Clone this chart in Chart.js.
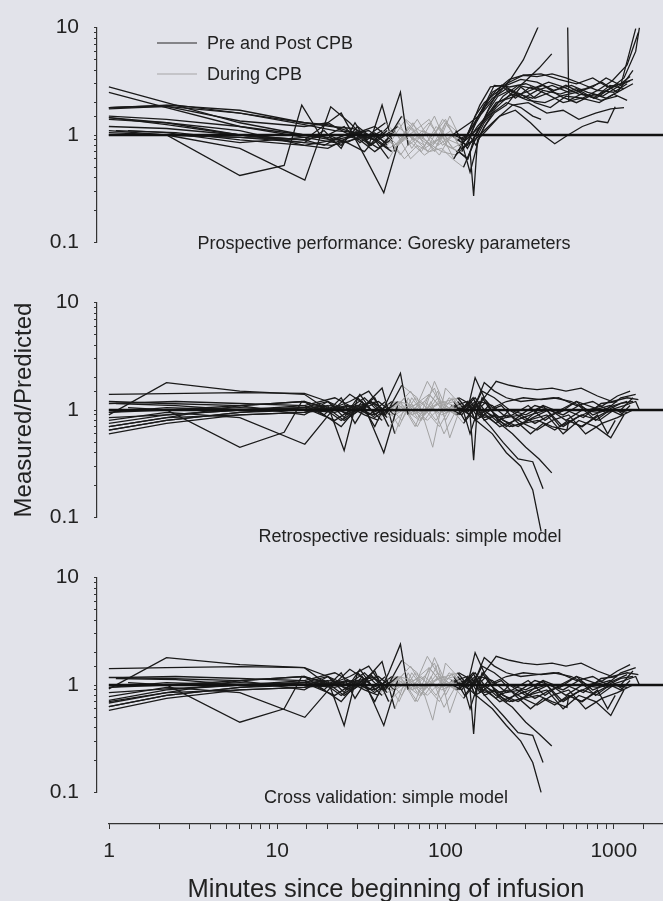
<!DOCTYPE html>
<html>
<head>
<meta charset="utf-8">
<script src="https://cdn.jsdelivr.net/npm/chart.js@4.4.1/dist/chart.umd.min.js"></script>
<style>
    html, body { margin: 0; padding: 0; }
    body {
        width: 663px; height: 901px; position: relative; overflow: hidden;
        background: #e2e3ea; color: #222;
        font-family: "Liberation Sans", Arial, sans-serif;
    }
    canvas { position: absolute; left: 0; }
    .note { position: absolute; font-size: 18px; white-space: nowrap; transform: translate(-50%, -50%); }
    .key { position: absolute; left: 157px; font-size: 18px; white-space: nowrap;
           display: flex; align-items: center; transform: translateY(-50%); }
    .swatch { display: inline-block; width: 40px; border-top: 1.6px solid; margin-right: 10px; }
</style>
</head>
<body>
<canvas id="gorChart" width="663" height="270" style="top:0px"></canvas>
<canvas id="retChart" width="663" height="270" style="top:275px"></canvas>
<canvas id="crsChart" width="663" height="270" style="top:550px"></canvas>
<canvas id="axisChart" width="663" height="105" style="top:800px"></canvas>

<div class="key" style="top:43px"><span class="swatch" style="border-color:#262626"></span>Pre and Post CPB</div>
<div class="key" style="top:74px"><span class="swatch" style="border-color:#a5a5a5"></span>During CPB</div>

<div class="note" style="left:384px; top:243px">Prospective performance: Goresky parameters</div>
<div class="note" style="left:410px; top:536px">Retrospective residuals: simple model</div>
<div class="note" style="left:386px; top:797px">Cross validation: simple model</div>

<script>
// ===== AXES =====
const xMin = 0.85;
const xMax = 1961;
const xTicks = [1, 10, 100, 1000];
const xTickText = ["1", "10", "100", "1000"];
const yTicks = [0.1, 1, 10];
const yTickText = ["0.1", "1", "10"];

// line of identity (measured = predicted)
const unityX = [1, 1961];
const unityY = [1, 1];

// ===== SUBJECTS (minutes, ratios per panel, CPB window) =====
const t1 = [1, 2.2, 6, 14.5, 21, 28, 36, 45, 60, 75, 90, 110, 125, 140, 165, 200, 240, 290, 354, 430, 527, 540, 640, 780, 950, 1100, 1250];
const gor1 = [2.8, 2.0, 1.3, 1.0, 0.9, 1.05, 0.8, 1.1, 0.9, 0.65, 0.8, 1.0, 1.15, 1.3, 1.6, 2.3, 3.2, 5.0, 10, 30, 30, 2.1, 2.4, 2.2, 2.7, 3.0, 3.5];
const ret1 = [0.75, 0.9, 1.0, 1.05, 1.1, 0.95, 1.2, 0.85, 1.1, 0.8, 1.2, 1.0, 0.9, 1.15, 1.0, 0.85, 0.9, 0.75, 0.8, 0.7, 0.65, 0.8, 0.7, 0.85, 1.0, 0.9, 1.1];
const crs1 = [0.72, 0.9, 1.0, 1.05, 1.1, 0.95, 1.25, 0.85, 1.1, 0.8, 1.2, 1.0, 0.9, 1.15, 1.0, 0.85, 0.9, 0.75, 0.8, 0.7, 0.62, 0.8, 0.7, 0.85, 1.0, 0.9, 1.1];
const cpb1 = [45, 110];

const t2 = [1, 2.2, 6, 14.5, 20, 26, 33, 42, 52, 65, 80, 100, 120, 135, 150, 170, 200, 250, 300, 360, 428];
const gor2 = [1.8, 1.85, 1.6, 1.3, 1.25, 1.1, 1.0, 0.95, 1.2, 0.9, 1.3, 0.8, 0.7, 0.6, 0.9, 1.3, 1.8, 2.5, 3.2, 4.2, 5.7];
const ret2 = [1.4, 1.42, 1.45, 1.43, 1.2, 1.0, 1.3, 0.9, 1.2, 1.1, 1.4, 0.95, 1.0, 1.1, 1.3, 1.0, 0.8, 0.6, 0.45, 0.35, 0.26];
const crs2 = [1.42, 1.45, 1.48, 1.45, 1.2, 1.0, 1.3, 0.9, 1.2, 1.1, 1.45, 0.95, 1.0, 1.1, 1.3, 1.0, 0.8, 0.62, 0.45, 0.35, 0.27];
const cpb2 = [52, 120];

const t3 = [1, 2.2, 6, 11, 14, 18, 24, 30, 38, 46, 58, 72, 88, 105, 125, 140, 160, 190, 230, 280, 340, 420, 520, 650, 800, 1000, 1200];
const gor3 = [1.0, 1.0, 0.42, 0.52, 1.9, 1.0, 0.8, 1.2, 0.9, 0.6, 1.1, 0.7, 1.2, 0.9, 0.8, 1.1, 1.6, 2.2, 2.7, 2.4, 2.0, 1.8, 2.3, 2.2, 2.6, 2.5, 3.0];
const ret3 = [0.95, 1.0, 0.45, 0.62, 1.2, 1.1, 0.8, 1.0, 1.3, 0.7, 1.0, 1.2, 0.8, 1.3, 1.05, 0.9, 1.2, 1.1, 0.85, 0.9, 1.1, 1.0, 0.8, 1.0, 0.95, 1.1, 1.2];
const crs3 = [0.95, 1.0, 0.45, 0.6, 1.2, 1.1, 0.8, 1.0, 1.35, 0.7, 1.0, 1.2, 0.8, 1.3, 1.05, 0.9, 1.2, 1.1, 0.85, 0.9, 1.1, 1.0, 0.8, 1.0, 0.95, 1.1, 1.25];
const cpb3 = [46, 125];

const t4 = [1, 2.2, 6, 14.6, 20.8, 27, 34, 42, 52, 64, 78, 95, 112, 130, 145, 165, 195, 240, 300, 380, 480, 600, 760, 950, 1150];
const gor4 = [1.1, 1.0, 0.75, 0.38, 1.83, 1.3, 0.9, 1.1, 0.8, 1.3, 0.7, 1.0, 0.6, 0.9, 1.2, 1.7, 2.9, 2.8, 3.0, 2.6, 2.4, 2.7, 2.2, 2.9, 2.7];
const ret4 = [0.8, 0.95, 0.85, 0.48, 0.95, 1.4, 1.1, 0.8, 1.2, 0.9, 1.85, 1.1, 1.2, 0.8, 1.0, 1.5, 1.3, 1.0, 0.9, 1.1, 0.7, 0.85, 1.0, 1.1, 0.9];
const crs4 = [0.78, 0.95, 0.85, 0.5, 0.95, 1.4, 1.1, 0.8, 1.2, 0.9, 1.85, 1.1, 1.2, 0.8, 1.0, 1.5, 1.3, 1.0, 0.9, 1.1, 0.7, 0.85, 1.0, 1.1, 0.9];
const cpb4 = [42, 112];

const t5 = [1, 2.2, 6, 14.5, 24, 32, 43, 52, 62, 75, 90, 108, 125, 140, 155, 175, 205, 250, 310, 390, 480, 600, 750, 900, 1100, 1350];
const gor5 = [1.45, 1.3, 1.0, 0.9, 1.6, 0.7, 0.29, 0.8, 1.0, 0.75, 0.9, 1.1, 0.7, 0.95, 1.2, 1.5, 2.0, 2.4, 2.1, 2.0, 2.3, 2.5, 2.8, 3.4, 2.9, 9.8];
const ret5 = [0.7, 0.85, 1.1, 1.2, 0.7, 1.2, 0.4, 1.1, 1.5, 0.9, 1.3, 1.0, 1.1, 0.6, 1.0, 1.2, 0.8, 0.9, 1.1, 0.8, 1.0, 1.2, 0.9, 1.0, 1.3, 1.4];
const crs5 = [0.68, 0.85, 1.1, 1.2, 0.7, 1.2, 0.42, 1.1, 1.5, 0.9, 1.3, 1.0, 1.1, 0.6, 1.0, 1.2, 0.8, 0.9, 1.1, 0.8, 1.0, 1.2, 0.9, 1.0, 1.3, 1.45];
const cpb5 = [52, 125];

const t6 = [1, 2.2, 6, 14.5, 20, 26, 32, 38, 46, 54, 60, 72, 86, 100, 118, 135, 150, 170, 200, 240, 290, 350, 430, 520, 640, 800, 980, 1200, 1400];
const gor6 = [1.5, 1.4, 1.2, 1.0, 0.95, 0.85, 1.0, 0.9, 1.2, 2.5, 0.8, 1.0, 0.7, 1.3, 0.9, 0.8, 1.3, 1.9, 2.6, 3.3, 3.6, 3.5, 3.7, 3.4, 3.0, 2.6, 3.2, 4.5, 9.0];
const ret6 = [0.65, 0.8, 0.95, 1.05, 1.2, 0.9, 1.1, 0.7, 1.3, 2.2, 0.9, 1.1, 1.6, 0.8, 1.3, 1.0, 2.0, 1.3, 1.85, 1.7, 1.6, 1.55, 1.6, 1.5, 1.6, 1.35, 1.2, 1.3, 1.25];
const crs6 = [0.63, 0.8, 0.95, 1.05, 1.2, 0.9, 1.1, 0.7, 1.3, 2.4, 0.9, 1.1, 1.6, 0.8, 1.3, 1.0, 2.0, 1.3, 1.85, 1.7, 1.6, 1.55, 1.6, 1.5, 1.6, 1.35, 1.2, 1.3, 1.25];
const cpb6 = [60, 118];

const t7 = [1, 2.2, 6, 14.5, 19, 25, 31, 38, 47, 57, 68, 80, 95, 110, 128, 140, 147, 155, 175, 210, 260, 320, 380, 446, 535, 650, 800, 920, 1020];
const gor7 = [1.0, 1.0, 0.95, 0.9, 0.8, 1.0, 0.9, 0.7, 0.9, 0.6, 0.8, 0.7, 0.75, 0.6, 0.5, 0.7, 0.27, 0.9, 1.1, 1.5, 1.7, 1.3, 1.0, 0.83, 1.0, 1.2, 1.35, 1.3, 1.83];
const ret7 = [1.0, 1.0, 1.05, 1.0, 1.1, 0.8, 1.0, 1.15, 0.9, 1.3, 0.85, 1.1, 0.9, 1.0, 0.75, 0.9, 0.34, 1.1, 0.9, 0.7, 0.8, 0.6, 0.75, 0.65, 0.8, 0.7, 0.9, 0.6, 0.8];
const crs7 = [1.0, 1.0, 1.05, 1.0, 1.1, 0.8, 1.0, 1.15, 0.9, 1.3, 0.85, 1.1, 0.9, 1.0, 0.75, 0.9, 0.35, 1.1, 0.9, 0.7, 0.8, 0.6, 0.75, 0.65, 0.8, 0.7, 0.9, 0.6, 0.8];
const cpb7 = [47, 128];

const t8 = [1, 2.2, 6, 14.5, 21, 28, 35, 44, 55, 66, 80, 96, 112, 130, 145, 160, 185, 220, 270, 330, 380];
const gor8 = [1.8, 1.9, 1.7, 1.3, 1.2, 1.15, 1.0, 1.3, 0.9, 1.1, 1.4, 0.8, 1.0, 0.9, 1.3, 1.9, 2.8, 2.9, 2.4, 2.2, 2.6];
const ret8 = [1.2, 1.15, 1.1, 1.2, 1.0, 1.1, 0.9, 1.2, 0.8, 1.3, 1.0, 1.2, 1.1, 1.0, 1.1, 0.9, 0.7, 0.5, 0.35, 0.33, 0.185];
const crs8 = [1.18, 1.15, 1.1, 1.2, 1.0, 1.1, 0.9, 1.2, 0.8, 1.3, 1.0, 1.2, 1.1, 1.0, 1.1, 0.9, 0.7, 0.52, 0.36, 0.34, 0.19];
const cpb8 = [44, 112];

const t9 = [1, 2.2, 6, 14.5, 22, 30, 38, 48, 60, 75, 92, 110, 126, 142, 160, 185, 220, 270, 330, 410, 500, 620, 780, 950, 1150, 1350, 1420];
const gor9 = [2.5, 1.8, 1.2, 0.95, 0.85, 1.0, 0.9, 0.7, 1.0, 0.8, 1.2, 0.75, 0.85, 1.0, 1.2, 1.6, 2.3, 2.9, 2.7, 3.1, 2.8, 2.4, 2.3, 2.7, 3.4, 6.0, 10];
const ret9 = [0.85, 0.9, 1.0, 1.0, 0.95, 1.1, 0.85, 1.1, 0.95, 1.2, 0.9, 1.3, 1.0, 1.2, 0.85, 1.0, 0.8, 0.7, 0.85, 1.0, 0.9, 1.1, 0.8, 1.0, 1.1, 1.2, 1.0];
const crs9 = [0.85, 0.92, 1.0, 1.0, 0.95, 1.1, 0.85, 1.1, 0.95, 1.2, 0.9, 1.3, 1.0, 1.2, 0.85, 1.0, 0.8, 0.7, 0.85, 1.0, 0.9, 1.1, 0.8, 1.0, 1.1, 1.2, 1.0];
const cpb9 = [48, 126];

const t10 = [1, 2.2, 6, 14.5, 20, 27, 35, 44, 55, 68, 84, 100, 118, 135, 150, 170, 195, 230, 280, 350, 440, 560, 700, 860, 1050, 1250];
const gor10 = [1.75, 1.85, 1.35, 1.2, 1.3, 1.0, 1.1, 0.85, 1.5, 1.0, 0.8, 1.3, 0.9, 1.0, 1.5, 2.0, 2.4, 2.9, 3.3, 3.1, 2.6, 2.9, 2.5, 2.3, 2.8, 3.2];
const ret10 = [0.9, 1.8, 1.5, 1.4, 1.0, 1.2, 1.5, 0.9, 1.7, 1.3, 0.45, 1.6, 1.2, 0.95, 1.1, 1.8, 1.5, 1.3, 1.2, 1.25, 1.3, 1.2, 1.0, 1.1, 1.35, 1.5];
const crs10 = [0.92, 1.8, 1.55, 1.45, 1.0, 1.2, 1.5, 0.9, 1.7, 1.3, 0.47, 1.6, 1.2, 0.95, 1.1, 1.8, 1.5, 1.3, 1.2, 1.25, 1.3, 1.2, 1.0, 1.1, 1.35, 1.55];
const cpb10 = [55, 118];

const t11 = [1.1, 2.5, 6, 14.5, 22, 30, 40, 50, 62, 78, 95, 115, 132, 150, 170, 200, 250, 310, 400, 500, 620, 780, 960, 1150];
const gor11 = [1.1, 1.05, 0.9, 0.8, 0.9, 1.0, 0.75, 1.1, 0.6, 0.85, 0.7, 0.65, 0.8, 0.9, 1.1, 1.4, 1.9, 2.0, 1.6, 1.7, 1.4, 1.6, 1.75, 1.8];
const ret11 = [1.15, 1.1, 1.0, 1.05, 0.8, 1.1, 1.2, 0.9, 1.1, 0.8, 1.1, 0.9, 1.0, 1.2, 0.8, 0.9, 0.7, 0.8, 0.9, 0.6, 0.8, 0.7, 0.55, 0.9];
const crs11 = [1.15, 1.12, 1.0, 1.05, 0.8, 1.1, 1.2, 0.9, 1.1, 0.8, 1.1, 0.9, 1.0, 1.2, 0.8, 0.9, 0.7, 0.8, 0.9, 0.6, 0.8, 0.7, 0.52, 0.9];
const cpb11 = [50, 115];

const t12 = [1, 2.2, 6, 14.5, 20, 25, 30, 36, 44, 54, 66, 80, 96, 115, 135, 150, 170, 200, 240, 300, 380, 480, 600, 760, 900, 1100, 1300];
const gor12 = [1.4, 1.3, 1.1, 0.8, 0.75, 0.9, 1.1, 0.8, 1.0, 0.65, 1.0, 0.8, 1.4, 1.1, 0.75, 1.0, 1.4, 2.0, 2.2, 2.5, 2.9, 2.3, 2.0, 2.4, 2.2, 2.6, 3.0];
const ret12 = [0.6, 0.75, 0.9, 0.95, 1.1, 0.42, 1.3, 1.0, 0.9, 1.2, 0.7, 1.4, 1.0, 1.1, 1.2, 0.8, 0.9, 0.75, 1.0, 0.8, 1.1, 0.95, 1.2, 1.05, 0.95, 1.0, 1.3];
const crs12 = [0.58, 0.75, 0.9, 0.95, 1.1, 0.42, 1.3, 1.0, 0.9, 1.2, 0.7, 1.45, 1.0, 1.1, 1.2, 0.8, 0.9, 0.75, 1.0, 0.8, 1.1, 0.95, 1.2, 1.05, 0.95, 1.0, 1.35];
const cpb12 = [44, 115];

const t13 = [1, 2.5, 6, 14.5, 22, 30, 38, 48, 58, 70, 85, 100, 120, 138, 152, 168, 190, 230, 290, 370, 470, 600, 750, 920, 1100, 1300];
const gor13 = [1.8, 1.9, 1.6, 1.25, 1.1, 1.05, 1.2, 0.9, 1.4, 1.1, 1.0, 1.4, 0.8, 0.95, 1.3, 1.7, 2.5, 3.0, 3.6, 3.7, 3.3, 3.0, 3.4, 2.8, 3.0, 3.3];
const ret13 = [1.15, 1.2, 1.15, 1.1, 1.3, 1.0, 0.9, 1.2, 1.0, 0.8, 1.1, 1.2, 1.3, 1.15, 0.9, 1.3, 1.05, 1.2, 1.3, 1.25, 1.3, 1.1, 1.2, 1.0, 1.15, 1.2];
const crs13 = [1.17, 1.2, 1.15, 1.1, 1.3, 1.0, 0.9, 1.2, 1.0, 0.8, 1.1, 1.2, 1.3, 1.15, 0.9, 1.3, 1.05, 1.2, 1.3, 1.25, 1.3, 1.1, 1.2, 1.0, 1.15, 1.2];
const cpb13 = [48, 120];

const t14 = [1, 2.2, 6, 14.5, 20, 26, 33, 40, 50, 62, 76, 92, 108, 125, 140, 160, 190, 230, 280, 330, 370];
const gor14 = [1.2, 1.15, 1.0, 0.9, 1.0, 0.85, 0.7, 1.0, 0.8, 1.2, 0.9, 0.65, 1.0, 0.85, 0.45, 1.0, 1.6, 2.0, 1.8, 1.5, 1.4];
const ret14 = [0.7, 0.85, 0.9, 0.95, 1.0, 1.1, 0.9, 0.8, 1.2, 0.9, 1.0, 0.7, 1.1, 1.0, 0.9, 0.75, 0.6, 0.4, 0.3, 0.18, 0.074];
const crs14 = [0.7, 0.85, 0.9, 0.95, 1.0, 1.1, 0.9, 0.8, 1.2, 0.9, 1.0, 0.7, 1.1, 1.0, 0.9, 0.75, 0.6, 0.42, 0.3, 0.19, 0.1];
const cpb14 = [40, 108];

const t15 = [1, 2.2, 6, 14.5, 19, 24, 29, 35, 42, 50, 60, 72, 86, 102, 120, 136, 150, 165, 185, 215, 260, 320, 400, 500, 640, 820, 1000, 1200];
const gor15 = [1.05, 1.0, 0.95, 0.85, 1.1, 0.75, 1.3, 0.8, 1.9, 0.7, 1.2, 0.9, 1.5, 0.8, 0.7, 0.6, 1.0, 1.3, 1.9, 2.9, 2.2, 2.8, 2.4, 2.0, 2.2, 2.0, 2.4, 2.1];
const ret15 = [0.95, 1.05, 1.0, 1.1, 0.9, 1.3, 0.75, 1.2, 1.6, 0.6, 1.3, 0.8, 1.85, 1.0, 0.9, 1.2, 0.8, 1.3, 1.0, 1.1, 0.8, 0.9, 1.0, 0.7, 0.9, 0.8, 1.0, 0.95];
const crs15 = [0.95, 1.05, 1.0, 1.1, 0.9, 1.3, 0.75, 1.2, 1.65, 0.6, 1.3, 0.8, 1.8, 1.0, 0.9, 1.2, 0.8, 1.3, 1.0, 1.1, 0.8, 0.9, 1.0, 0.7, 0.9, 0.8, 1.0, 0.95];
const cpb15 = [50, 120];

const t16 = [1, 2.2, 6, 14.5, 21, 28, 36, 46, 56, 68, 82, 98, 116, 132, 146, 162, 180, 205, 240, 290, 350, 430, 540, 680, 850, 1050, 1300];
const gor16 = [1.45, 1.25, 1.0, 0.85, 0.8, 0.9, 1.0, 0.75, 0.9, 1.4, 0.85, 0.95, 0.7, 0.8, 0.9, 1.2, 1.7, 2.3, 2.6, 2.2, 2.6, 2.9, 2.5, 2.7, 3.1, 2.5, 4.0];
const ret16 = [0.65, 0.8, 0.95, 1.0, 1.05, 0.9, 1.2, 0.95, 1.1, 0.7, 1.2, 0.6, 1.0, 1.1, 1.3, 0.9, 1.1, 0.8, 0.7, 0.75, 0.65, 0.8, 0.9, 0.6, 0.75, 0.85, 1.0];
const crs16 = [0.63, 0.8, 0.95, 1.0, 1.05, 0.9, 1.2, 0.95, 1.1, 0.7, 1.2, 0.62, 1.0, 1.1, 1.3, 0.9, 1.1, 0.8, 0.7, 0.75, 0.65, 0.8, 0.9, 0.6, 0.75, 0.85, 1.0];
const cpb16 = [46, 116];

const t17 = [1.3, 2.2, 6, 14.5, 20, 25, 31, 38, 45, 53, 63, 75, 90, 106, 124, 138, 152, 170, 195, 230, 280, 340, 420, 520, 660, 840, 1050];
const gor17 = [1.1, 1.05, 0.85, 0.95, 1.0, 1.2, 0.85, 1.05, 0.8, 1.3, 0.75, 1.1, 0.8, 1.5, 0.9, 1.0, 0.8, 1.2, 1.6, 1.9, 2.8, 2.2, 2.5, 2.9, 2.4, 2.1, 2.3];
const ret17 = [1.05, 1.0, 1.1, 0.9, 1.2, 0.85, 1.4, 0.9, 1.1, 0.7, 1.3, 0.9, 1.5, 0.55, 1.1, 0.9, 1.2, 0.85, 0.9, 0.7, 0.9, 0.75, 0.9, 1.0, 0.85, 1.15, 1.2];
const crs17 = [1.05, 1.0, 1.1, 0.9, 1.2, 0.85, 1.4, 0.9, 1.1, 0.7, 1.3, 0.9, 1.55, 0.55, 1.1, 0.9, 1.2, 0.85, 0.9, 0.7, 0.9, 0.75, 0.9, 1.0, 0.85, 1.15, 1.2];
const cpb17 = [45, 124];

const subjects = [
    { t: t1, gor: gor1, ret: ret1, crs: crs1, cpb: cpb1 },
    { t: t2, gor: gor2, ret: ret2, crs: crs2, cpb: cpb2 },
    { t: t3, gor: gor3, ret: ret3, crs: crs3, cpb: cpb3 },
    { t: t4, gor: gor4, ret: ret4, crs: crs4, cpb: cpb4 },
    { t: t5, gor: gor5, ret: ret5, crs: crs5, cpb: cpb5 },
    { t: t6, gor: gor6, ret: ret6, crs: crs6, cpb: cpb6 },
    { t: t7, gor: gor7, ret: ret7, crs: crs7, cpb: cpb7 },
    { t: t8, gor: gor8, ret: ret8, crs: crs8, cpb: cpb8 },
    { t: t9, gor: gor9, ret: ret9, crs: crs9, cpb: cpb9 },
    { t: t10, gor: gor10, ret: ret10, crs: crs10, cpb: cpb10 },
    { t: t11, gor: gor11, ret: ret11, crs: crs11, cpb: cpb11 },
    { t: t12, gor: gor12, ret: ret12, crs: crs12, cpb: cpb12 },
    { t: t13, gor: gor13, ret: ret13, crs: crs13, cpb: cpb13 },
    { t: t14, gor: gor14, ret: ret14, crs: crs14, cpb: cpb14 },
    { t: t15, gor: gor15, ret: ret15, crs: crs15, cpb: cpb15 },
    { t: t16, gor: gor16, ret: ret16, crs: crs16, cpb: cpb16 },
    { t: t17, gor: gor17, ret: ret17, crs: crs17, cpb: cpb17 }
];

// ===== STYLE =====
const FONT = "'Liberation Sans', Arial, sans-serif";
const DARK = "#1a1a1a";
const LIGHT = "#a2a2a2";
const AXIS = "#333333";

function during(ctx, cpb) {
    return ctx.p0.parsed.x >= cpb[0] && ctx.p1.parsed.x <= cpb[1];
}

function tickText(ticks, texts) {
    return v => {
        const i = ticks.findIndex(t => Math.abs(t - v) < 1e-9);
        return i >= 0 ? texts[i] : "";
    };
}

function buildDatasets(key, clip) {
    const sets = [{
        data: unityX.map((x, i) => ({ x: x, y: unityY[i] })),
        borderColor: "#111",
        borderWidth: 2.6,
        pointRadius: 0,
        order: -1
    }];

    subjects.forEach(s => {
        const vals = s[key];
        const n = Math.min(s.t.length, vals.length);
        const pts = [];
        for (let i = 0; i < n; i++) pts.push({ x: s.t[i], y: vals[i] });

        sets.push({
            data: pts,
            borderColor: DARK,
            borderWidth: 1.3,
            pointRadius: 0,
            tension: 0,
            clip: clip,
            segment: {
                borderColor: ctx => during(ctx, s.cpb) ? LIGHT : DARK,
                borderWidth: ctx => during(ctx, s.cpb) ? 1 : 1.3
            }
        });
    });
    return sets;
}

function panelOptions(padTop, padBottom, title) {
    return {
        responsive: false,
        animation: false,
        events: [],
        layout: { padding: { top: padTop, bottom: padBottom, left: 0, right: 0 } },
        plugins: { legend: { display: false }, tooltip: { enabled: false } },
        scales: {
            x: { type: "logarithmic", min: xMin, max: xMax, display: false },
            y: {
                type: "logarithmic",
                min: 0.1,
                max: 10,
                afterFit: sc => { sc.width = 97; },
                border: { display: true, color: AXIS, width: 1.2 },
                grid: { drawOnChartArea: false, drawTicks: true, tickLength: 3, color: AXIS },
                ticks: {
                    autoSkip: false,
                    padding: 15,
                    color: "#222",
                    font: { family: FONT, size: 21 },
                    callback: tickText(yTicks, yTickText)
                },
                title: title ? {
                    display: true,
                    text: title,
                    color: "#222",
                    font: { family: FONT, size: 24 },
                    padding: { top: 10, bottom: 0 }
                } : { display: false }
            }
        }
    };
}

// ===== PANELS =====
new Chart(document.getElementById("gorChart"), {
    type: "line",
    data: { datasets: buildDatasets("gor", undefined) },
    options: panelOptions(24, 18, null)
});

new Chart(document.getElementById("retChart"), {
    type: "line",
    data: { datasets: buildDatasets("ret", { left: 2, top: 2, right: 2, bottom: 40 }) },
    options: panelOptions(24, 17, "Measured/Predicted")
});

new Chart(document.getElementById("crsChart"), {
    type: "line",
    data: { datasets: buildDatasets("crs", { left: 2, top: 2, right: 2, bottom: 40 }) },
    options: panelOptions(25, 14, null)
});

// ===== SHARED X AXIS =====
new Chart(document.getElementById("axisChart"), {
    type: "line",
    data: { datasets: [] },
    options: {
        responsive: false,
        animation: false,
        events: [],
        layout: { padding: { top: 0, bottom: 0, left: 109, right: 0 } },
        plugins: { legend: { display: false }, tooltip: { enabled: false } },
        scales: {
            x: {
                type: "logarithmic",
                min: 1,
                max: xMax,
                position: "bottom",
                afterFit: sc => {
                    sc.height = 81;
                    sc.paddingLeft = 0;
                    sc.paddingRight = 0;
                },
                border: { display: true, color: AXIS, width: 1.2 },
                grid: { drawOnChartArea: false, drawTicks: true, tickLength: 5, color: AXIS },
                ticks: {
                    autoSkip: false,
                    maxRotation: 0,
                    padding: 10,
                    color: "#222",
                    font: { family: FONT, size: 21 },
                    callback: tickText(xTicks, xTickText)
                },
                title: {
                    display: true,
                    text: "Minutes since beginning of infusion",
                    color: "#222",
                    font: { family: FONT, size: 25.5 },
                    padding: { top: 0, bottom: 0 }
                }
            },
            y: { display: false, type: "linear", min: 0, max: 1 }
        }
    }
});
</script>
</body>
</html>
